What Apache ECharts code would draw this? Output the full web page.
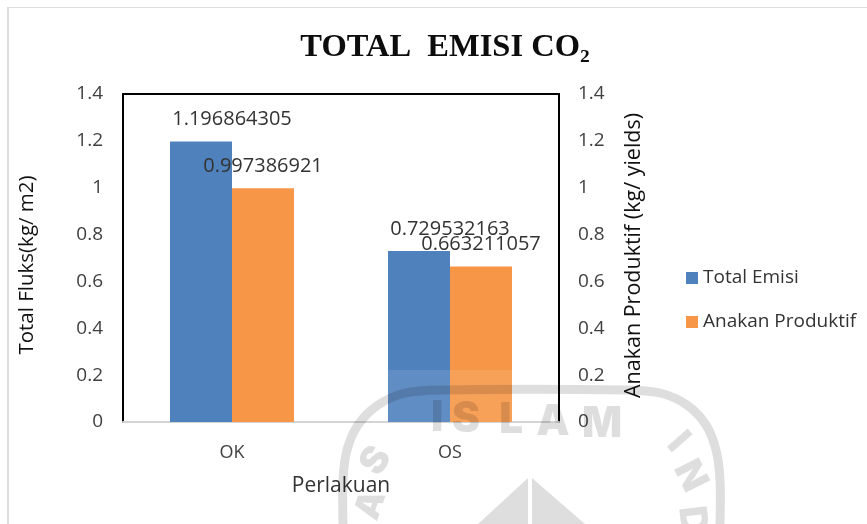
<!DOCTYPE html>
<html><head><meta charset="utf-8">
<style>html,body{margin:0;padding:0;background:#fff}#c{width:867px;height:524px}</style>
<script src="https://cdn.jsdelivr.net/npm/echarts@6/dist/echarts.min.js"></script>
</head><body><div id="c"></div>
<script>
const categories = ['OK', 'OS'];
const totalEmisi = [1.196864305, 0.729532163];
const anakanProduktif = [0.997386921, 0.663211057];
const font = '"Open Sans", sans-serif';
const wm = 'rgba(0,0,0,0.13)';
const wmLetter = (text, x, y, rot, size) => ({
  type: 'text', x, y, originX: 0, originY: 0, rotation: rot, z: 100, silent: true,
  style: { text, fill: wm, fontFamily: 'Inter, "Liberation Sans", sans-serif', fontWeight: 900, fontSize: size, align: 'center', verticalAlign: 'middle' }
});
const crest = [[343,524],[343,480],[347,450],[358,425],[378,405],[405,393],[440,390],[625,390],[660,393],[687,405],[706,425],[716,450],[720,480],[720,524]];
const chart = echarts.init(document.getElementById('c'), null, { renderer: 'canvas' });
chart.setOption({
  animation: false,
  backgroundColor: '#fff',
  title: {
    text: 'TOTAL  EMISI CO₂', left: 440, top: 26, textAlign: 'center',
    textStyle: { fontFamily: '"Liberation Serif", serif', fontWeight: 'bold', fontSize: 32.5, color: '#0d0d0d' }
  },
  grid: { left: 123, right: 308, top: 94, bottom: 102, show: false },
  legend: {
    orient: 'vertical', left: 681, top: 262, itemWidth: 12, itemHeight: 12, itemGap: 22,
    icon: 'rect',
    textStyle: { fontFamily: font, fontSize: 19, color: '#333', lineHeight: 22 },
    data: ['Total Emisi', 'Anakan Produktif']
  },
  xAxis: [{
    type: 'category', data: categories,
    name: 'Perlakuan', nameLocation: 'middle', nameGap: 54,
    nameTextStyle: { fontFamily: font, fontSize: 21, color: '#333' },
    axisLine: { lineStyle: { color: '#d4d4d4', width: 2 } },
    axisTick: { show: false },
    axisLabel: { fontFamily: font, fontSize: 18, color: '#404040', margin: 22 }
  }, {
    type: 'category', data: categories, position: 'top',
    axisLine: { show: true, onZero: false, lineStyle: { color: '#000', width: 2 } },
    axisTick: { show: false }, axisLabel: { show: false }
  }],
  yAxis: [{
    type: 'value', min: 0, max: 1.4, interval: 0.2,
    name: 'Total Fluks(kg/ m2)', nameLocation: 'middle', nameGap: 85,
    nameTextStyle: { fontFamily: font, fontSize: 20.5, color: '#111', padding: [0, 14, 0, 0] },
    splitLine: { show: false }, axisTick: { show: false },
    axisLine: { show: true, lineStyle: { color: '#000', width: 2 } },
    axisLabel: { fontFamily: font, fontSize: 19, color: '#404040', margin: 20, padding: [4, 0, 0, 0] }
  }, {
    type: 'value', min: 0, max: 1.4, interval: 0.2, position: 'right',
    name: 'Anakan Produktif (kg/ yields)', nameLocation: 'middle', nameGap: 64,
    nameTextStyle: { fontFamily: font, fontSize: 21.5, color: '#111', padding: [0, 0, 0, 5] },
    splitLine: { show: false }, axisTick: { show: false },
    axisLine: { show: true, lineStyle: { color: '#000', width: 2 } },
    axisLabel: { fontFamily: font, fontSize: 19, color: '#404040', margin: 19, padding: [4, 0, 0, 0] }
  }],
  series: [{
    name: 'Total Emisi', type: 'bar', data: totalEmisi, barWidth: 62, barGap: 0,
    itemStyle: { color: '#4F81BD' },
    label: { show: true, position: 'top', distance: 12, offset: [31, 0], fontFamily: font, fontSize: 20, color: '#333' }
  }, {
    name: 'Anakan Produktif', type: 'bar', data: anakanProduktif, barWidth: 62,
    itemStyle: { color: '#F79646' },
    label: { show: true, position: 'top', distance: 12, fontFamily: font, fontSize: 20, color: '#333' }
  }],
  graphic: [
    { type: 'rect', z: 99, silent: true, shape: { x: 8, y: 7, width: 859, height: 1 }, style: { fill: '#ddd' } },
    { type: 'rect', z: 99, silent: true, shape: { x: 7, y: 7, width: 2, height: 517 }, style: { fill: '#ddd' } },
    { type: 'rect', z: 99, silent: true, shape: { x: 388, y: 370, width: 124, height: 52 }, style: { fill: 'rgba(255,255,255,0.1)' } },
    { type: 'polyline', z: 100, silent: true, shape: { points: crest, smooth: 0.3 }, style: { fill: 'none', stroke: wm, lineWidth: 9 } },
    wmLetter('I', 437, 418, 0, 42),
    wmLetter('S', 466, 419, 0, 42),
    wmLetter('L', 511, 420, 0, 42),
    wmLetter('A', 553, 422, 0, 42),
    wmLetter('M', 602, 424, 0, 42),
    wmLetter('S', 376, 461, 1.0, 38),
    wmLetter('A', 371, 505, 1.25, 36),
    wmLetter('I', 678, 442, -0.85, 38),
    wmLetter('N', 690, 476, -1.1, 38),
    wmLetter('D', 692, 520, -1.45, 38),
    { type: 'polygon', z: 100, silent: true, shape: { points: [[528,478],[528,524],[478,524]] }, style: { fill: wm } },
    { type: 'polygon', z: 100, silent: true, shape: { points: [[532,478],[532,524],[585,524]] }, style: { fill: wm } }
  ]
});
</script></body></html>
